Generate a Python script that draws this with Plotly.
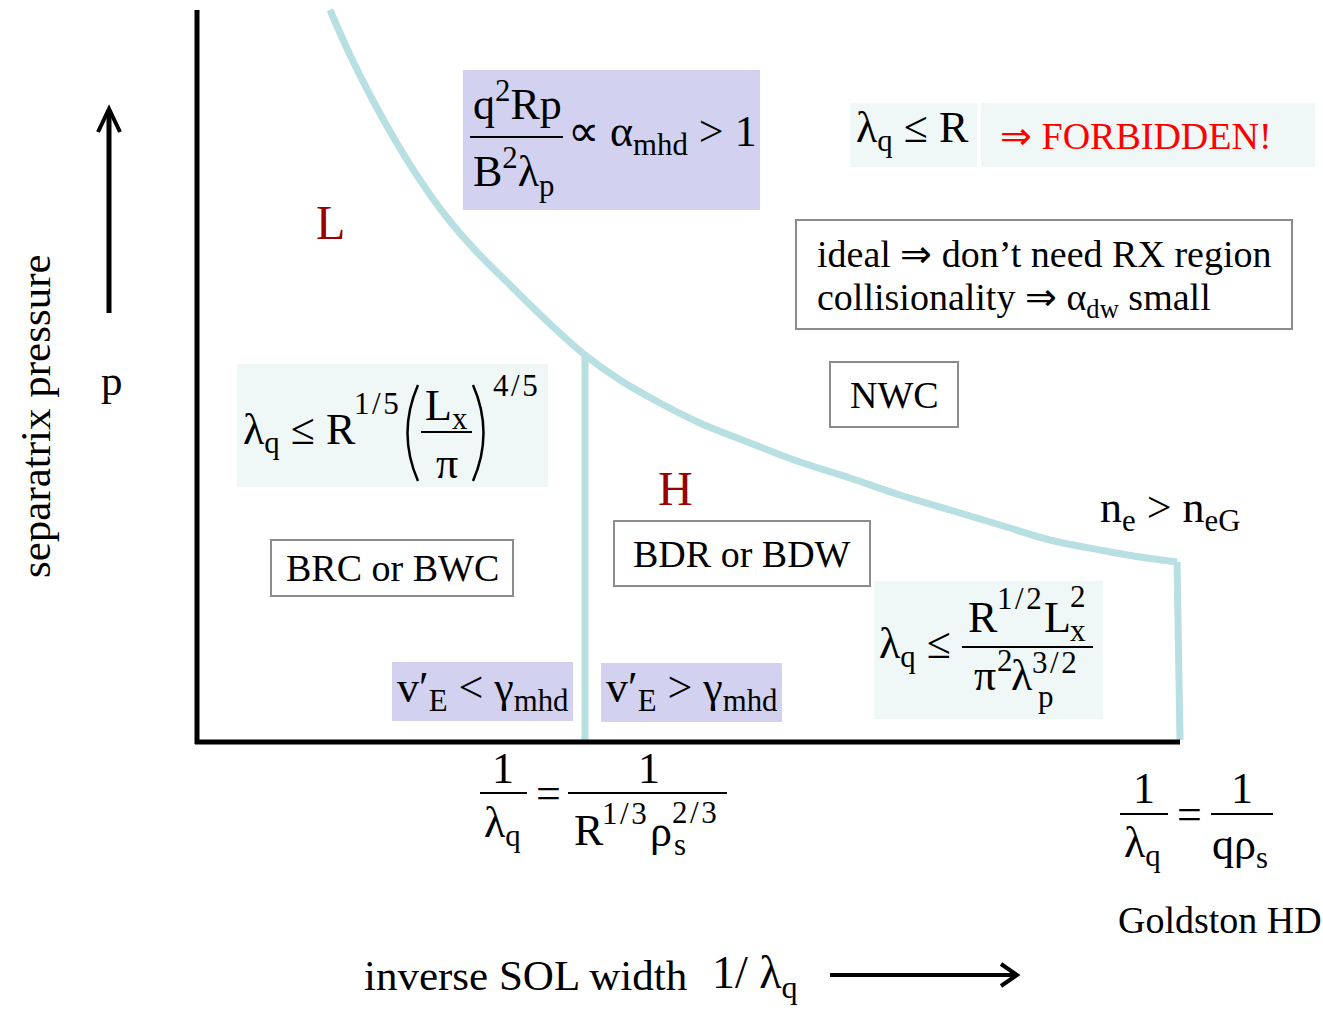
import plotly.graph_objects as go

# ---- data: boundary curves of the operating-space diagram (pixel-space coordinates) ----
curve_x = [330, 350, 370, 395, 420, 445, 475, 510, 548, 585, 620, 660, 700, 750, 800, 850, 900, 950, 1000, 1050, 1100, 1140, 1177]
curve_y = [10, 55, 95, 140, 180, 215, 250, 285, 322, 355, 380, 403, 423, 443, 462, 478, 495, 510, 525, 540, 550, 557, 562]
hd_x = [1177, 1180]
hd_y = [562, 740]
mhd_x = [585, 585]
mhd_y = [355, 740]
yaxis_x = [197, 197]
yaxis_y = [10, 744]
xaxis_x = [195, 1180]
xaxis_y = [742, 742]

FONT = "Liberation Serif, Times New Roman, serif"
CURVE = "#b8dfe2"
LAV = "#d2d2f0"
MINT = "#eff8f6"
F = 44   # formula font size
S = 31   # formula script size
T = 38   # plain text size
HS = "\u200a"  # hair space used in script fractions like 1/2

def sfrac(a, b):
    return a + HS + "/" + HS + b

fig = go.Figure()

def line(xs, ys, color, width, shape="linear"):
    fig.add_trace(go.Scatter(x=xs, y=ys, mode="lines", line=dict(color=color, width=width, shape=shape),
                             hoverinfo="skip", showlegend=False))

line(curve_x, curve_y, CURVE, 7, "spline")
line(hd_x, hd_y, CURVE, 7)
line(mhd_x, mhd_y, CURVE, 7)
line(yaxis_x, yaxis_y, "black", 5)
line(xaxis_x, xaxis_y, "black", 5)

shapes = []
def rect(x0, y0, x1, y1, fill, border=None):
    shapes.append(dict(type="rect", x0=x0, y0=y0, x1=x1, y1=y1, xref="x", yref="y",
                       fillcolor=fill, line=dict(color=border or fill, width=2 if border else 0), layer="below"))

def hline(x0, x1, y, w=2, color="black"):
    shapes.append(dict(type="line", x0=x0, x1=x1, y0=y, y1=y, xref="x", yref="y", line=dict(color=color, width=w)))

def path(p, w=2):
    shapes.append(dict(type="path", path=p, xref="x", yref="y", line=dict(color="black", width=w)))

rect(463, 70, 760, 210, LAV)
rect(850, 103, 977, 167, MINT)
rect(981, 103, 1315, 167, MINT)
rect(796, 220, 1292, 329, "white", "#8c8c8c")
rect(830, 362, 958, 427, "white", "#8c8c8c")
rect(237, 364, 548, 487, MINT)
rect(271, 540, 513, 596, "white", "#8c8c8c")
rect(614, 521, 870, 586, "white", "#8c8c8c")
rect(874, 581, 1103, 719, MINT)
rect(392, 662, 573, 721, LAV)
rect(601, 663, 782, 722, LAV)

# fraction bars
hline(470, 563, 137)
hline(421, 472, 432)
hline(962, 1093, 647)
hline(480, 527, 793)
hline(568, 727, 793)
hline(1120, 1168, 814)
hline(1211, 1273, 814)
# parentheses
path("M 418 385 Q 397 433 418 481", 2.5)
path("M 473 385 Q 494 433 473 481", 2.5)
# axis arrows (open chevron heads)
path("M 109 313 L 109 110", 5)
path("M 98 132 L 109 109 L 120 132", 4)
path("M 830 975 L 1015 975", 4)
path("M 1001 964 L 1017 975 L 1001 986", 4)

anns = []
def txt(x, y, s, size=T, color="black", xa="center", ya="middle", angle=0):
    anns.append(dict(x=x, y=y, xref="x", yref="y", text=s, showarrow=False, xanchor=xa, yanchor=ya,
                     textangle=angle, font=dict(family=FONT, size=size, color=color)))

# top formula
txt(471, 101, "q<sup>2</sup>Rp", size=F, xa="left")
txt(471, 172, "B<sup>2</sup>λ<sub>p</sub>", size=F, xa="left")
txt(566, 134, "∝ α<sub>mhd</sub> > 1", size=F, xa="left")
# forbidden
txt(854, 130, "λ<sub>q</sub> ≤ R", size=F, xa="left")
txt(998, 136, "⇒ FORBIDDEN!", color="#ff0000", xa="left")
# ideal box
txt(815, 254, "ideal ⇒ don’t need RX region", xa="left")
txt(815, 300, "collisionality ⇒ α<sub>dw</sub> small", xa="left")
txt(894, 395, "NWC")
# L and H
txt(330, 222, "L", size=48, color="#990000")
txt(675, 488, "H", size=48, color="#990000")
# left formula
txt(241, 432, "λ<sub>q</sub> ≤ R", size=F, xa="left")
txt(352, 403, sfrac("1", "5"), size=S, xa="left")
txt(446, 408, "L<sub>x</sub>", size=F)
txt(447, 463, "π", size=F)
txt(491, 385, sfrac("4", "5"), size=S, xa="left")
txt(392, 568, "BRC or BWC")
txt(742, 554, "BDR or BDW")
# right formula
txt(877, 646, "λ<sub>q</sub> ≤", size=F, xa="left")
txt(966, 617, "R", size=F, xa="left")
txt(995, 598, sfrac("1", "2"), size=S, xa="left")
txt(1042, 617, "L", size=F, xa="left")
txt(1068, 596, "2", size=S, xa="left")
txt(1068, 630, "x", size=S, xa="left")
txt(972, 675, "π", size=F, xa="left")
txt(995, 660, "2", size=S, xa="left")
txt(1009, 675, "λ", size=F, xa="left")
txt(1030, 662, sfrac("3", "2"), size=S, xa="left")
txt(1036, 696, "p", size=S, xa="left")
txt(1170, 510, "n<sub>e</sub> > n<sub>eG</sub>", size=F)
# v'E boxes
txt(483, 690, "v′<sub>E</sub> < γ<sub>mhd</sub>", size=F)
txt(692, 690, "v′<sub>E</sub> > γ<sub>mhd</sub>", size=F)
# bottom formula 1
txt(503, 768, "1", size=F)
txt(502, 825, "λ<sub>q</sub>", size=F)
txt(548, 793, "=", size=F)
txt(649, 768, "1", size=F)
txt(572, 830, "R", size=F, xa="left")
txt(600, 813, sfrac("1", "3"), size=S, xa="left")
txt(648, 831, "ρ", size=F, xa="left")
txt(670, 812, sfrac("2", "3"), size=S, xa="left")
txt(672, 844, "s", size=S, xa="left")
# bottom formula 2
txt(1144, 788, "1", size=F)
txt(1142, 845, "λ<sub>q</sub>", size=F)
txt(1189, 814, "=", size=F)
txt(1242, 788, "1", size=F)
txt(1240, 847, "qρ<sub>s</sub>", size=F)
txt(1220, 920, "Goldston HD")
# axis labels
txt(35, 416, "separatrix pressure", size=43, angle=-90)
txt(112, 380, "p", size=43)
txt(525, 975, "inverse SOL width", size=43)
txt(710, 976, "1/ λ<sub>q</sub>", size=46, xa="left")

fig.update_layout(
    width=1323, height=1012,
    margin=dict(l=0, r=0, t=0, b=0),
    paper_bgcolor="white", plot_bgcolor="white",
    xaxis=dict(range=[0, 1323], visible=False, fixedrange=True),
    yaxis=dict(range=[1012, 0], visible=False, fixedrange=True),
    shapes=shapes, annotations=anns,
)

fig.write_html("out.html", config={"displayModeBar": False},
               post_script="document.body.style.margin='0';document.body.style.overflow='hidden';")
